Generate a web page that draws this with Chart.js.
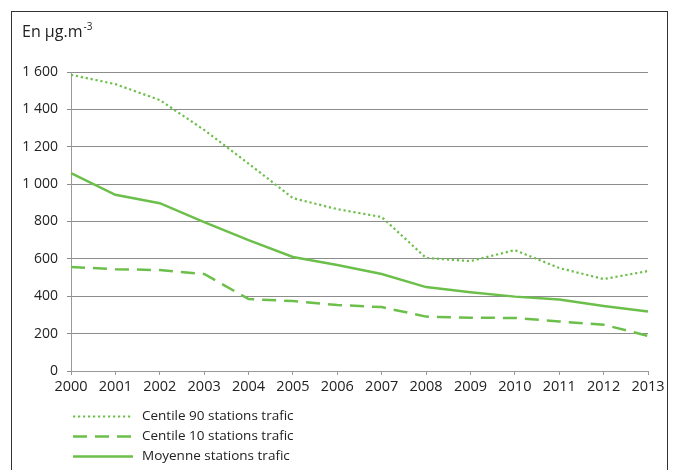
<!DOCTYPE html>
<html>
<head>
<meta charset="utf-8">
<script src="https://cdn.jsdelivr.net/npm/chart.js@4"></script>
<style>
  body { margin: 0; background: #fff; }
  #wrap { width: 675px; height: 470px; position: relative; }
</style>
</head>
<body>
<div id="wrap"><canvas id="chart" width="675" height="470"></canvas></div>
<script>
// data
const years = ["2000", "2001", "2002", "2003", "2004", "2005", "2006", "2007", "2008", "2009", "2010", "2011", "2012", "2013"];
const centile90 = [1585, 1535, 1450, 1290, 1110, 925, 866, 824, 605, 588, 647, 551, 492, 535];
const centile10 = [556, 545, 540, 519, 385, 374, 353, 342, 291, 285, 284, 265, 248, 188];
const moyenne = [1059, 943, 898, 797, 700, 610, 567, 519, 449, 422, 398, 382, 348, 318];
const yTicks = [0, 200, 400, 600, 800, 1000, 1200, 1400, 1600];

const green = "#6cbf4a";
const font = "'Open Sans', sans-serif";

// frame, unit label and legend drawn by hand
const decor = {
    id: "decor",
    afterDraw(chart) {
        const ctx = chart.ctx;
        ctx.save();
        ctx.strokeStyle = "#333";
        ctx.lineWidth = 1;
        ctx.strokeRect(11.5, 11.5, 656, 480);

        ctx.fillStyle = "#222";
        ctx.textBaseline = "alphabetic";
        ctx.font = "16px " + font;
        ctx.fillText("En µg.m", 22, 37);
        const w = ctx.measureText("En µg.m").width;
        ctx.font = "10px " + font;
        ctx.fillText("-3", 22 + w + 1, 30);

        const rows = [416, 436, 456];
        ctx.font = "13.5px " + font;
        ctx.textBaseline = "middle";
        chart.data.datasets.forEach((ds, i) => {
            const y = rows[i] + 0.5;
            ctx.beginPath();
            ctx.strokeStyle = ds.borderColor;
            ctx.lineWidth = ds.borderWidth;
            ctx.setLineDash(ds.borderDash || []);
            ctx.moveTo(73, y);
            ctx.lineTo(133, y);
            ctx.stroke();
            ctx.setLineDash([]);
            ctx.fillStyle = "#222";
            ctx.fillText(ds.label, 142, rows[i]);
        });
        ctx.restore();
    },
};

new Chart(document.getElementById("chart").getContext("2d"), {
    type: "line",
    data: {
        labels: years,
        datasets: [
            {
                label: "Centile 90 stations trafic",
                data: centile90,
                borderColor: green,
                borderWidth: 2.2,
                borderDash: [2.2, 2.8],
                pointRadius: 0,
                fill: false,
            },
            {
                label: "Centile 10 stations trafic",
                data: centile10,
                borderColor: green,
                borderWidth: 2.5,
                borderDash: [14, 8],
                pointRadius: 0,
                fill: false,
            },
            {
                label: "Moyenne stations trafic",
                data: moyenne,
                borderColor: green,
                borderWidth: 2.5,
                pointRadius: 0,
                fill: false,
            },
        ],
    },
    options: {
        responsive: false,
        animation: false,
        layout: { padding: { left: 0, top: 72, right: 27, bottom: 71 } },
        plugins: {
            legend: { display: false },
            tooltip: { enabled: false },
        },
        scales: {
            x: {
                afterFit: (s) => { s.height = 28; },
                grid: { display: true, drawOnChartArea: false, drawTicks: true, tickLength: 4, color: "#999" },
                border: { color: "#999" },
                ticks: { color: "#222", font: { family: font, size: 14.5 }, padding: 3, maxRotation: 0 },
            },
            y: {
                min: 0,
                max: 1600,
                afterFit: (s) => { s.width = 71; },
                afterBuildTicks: (s) => { s.ticks = yTicks.map((v) => ({ value: v })); },
                grid: { color: "#8c8c8c", tickLength: 4 },
                border: { color: "#999" },
                ticks: {
                    color: "#222",
                    font: { family: font, size: 14 },
                    padding: 9,
                    callback: (v) => String(v).replace(/\B(?=(\d{3})+(?!\d))/g, " "),
                },
            },
        },
    },
    plugins: [decor],
});
</script>
</body>
</html>
